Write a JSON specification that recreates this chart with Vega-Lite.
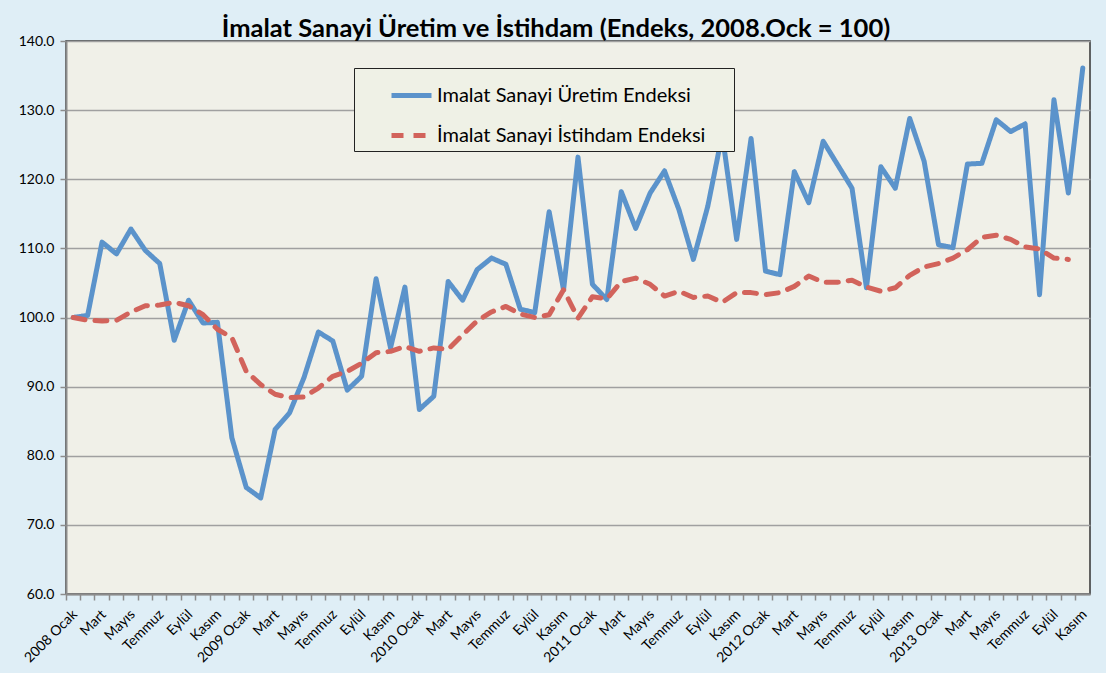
{
  "$schema": "https://vega.github.io/schema/vega-lite/v6.json",
  "width": 1024,
  "height": 553,
  "autosize": {"type": "none"},
  "padding": {"left": 66, "top": 41, "right": 16, "bottom": 79},
  "background": "#DFEEF6",
  "config": {
    "font": "Lato",
    "view": {"fill": "#F0F0E8", "stroke": "#333333", "strokeWidth": 1.5}
  },
  "title": {
    "text": "İmalat Sanayi Üretim ve İstihdam (Endeks, 2008.Ock = 100)",
    "font": "Lato",
    "fontSize": 25.5,
    "fontWeight": "bold",
    "color": "#000000",
    "anchor": "middle",
    "frame": "group",
    "baseline": "alphabetic",
    "offset": -28,
    "dx": -22
  },
  "data": {
    "values": [
      {"ay": "2008 Ocak", "uretim": 100.0, "istihdam": 100.0},
      {"ay": "2008 Şubat", "uretim": 100.3, "istihdam": 99.6},
      {"ay": "2008 Mart", "uretim": 110.9, "istihdam": 99.5},
      {"ay": "2008 Nisan", "uretim": 109.2, "istihdam": 99.6},
      {"ay": "2008 Mayıs", "uretim": 112.8, "istihdam": 100.8},
      {"ay": "2008 Haziran", "uretim": 109.7, "istihdam": 101.7},
      {"ay": "2008 Temmuz", "uretim": 107.8, "istihdam": 101.8},
      {"ay": "2008 Ağustos", "uretim": 96.7, "istihdam": 102.2},
      {"ay": "2008 Eylül", "uretim": 102.5, "istihdam": 101.7},
      {"ay": "2008 Ekim", "uretim": 99.2, "istihdam": 100.4},
      {"ay": "2008 Kasım", "uretim": 99.3, "istihdam": 98.3},
      {"ay": "2008 Aralık", "uretim": 82.6, "istihdam": 97.1},
      {"ay": "2009 Ocak", "uretim": 75.4, "istihdam": 92.2},
      {"ay": "2009 Şubat", "uretim": 73.9, "istihdam": 90.3},
      {"ay": "2009 Mart", "uretim": 83.8, "istihdam": 88.9},
      {"ay": "2009 Nisan", "uretim": 86.2, "istihdam": 88.4},
      {"ay": "2009 Mayıs", "uretim": 91.3, "istihdam": 88.5},
      {"ay": "2009 Haziran", "uretim": 97.9, "istihdam": 89.8},
      {"ay": "2009 Temmuz", "uretim": 96.6, "istihdam": 91.5},
      {"ay": "2009 Ağustos", "uretim": 89.5, "istihdam": 92.2},
      {"ay": "2009 Eylül", "uretim": 91.5, "istihdam": 93.4},
      {"ay": "2009 Ekim", "uretim": 105.6, "istihdam": 94.9},
      {"ay": "2009 Kasım", "uretim": 95.6, "istihdam": 95.1},
      {"ay": "2009 Aralık", "uretim": 104.4, "istihdam": 95.8},
      {"ay": "2010 Ocak", "uretim": 86.7, "istihdam": 95.1},
      {"ay": "2010 Şubat", "uretim": 88.6, "istihdam": 95.6},
      {"ay": "2010 Mart", "uretim": 105.2, "istihdam": 95.4},
      {"ay": "2010 Nisan", "uretim": 102.5, "istihdam": 97.5},
      {"ay": "2010 Mayıs", "uretim": 106.9, "istihdam": 99.5},
      {"ay": "2010 Haziran", "uretim": 108.6, "istihdam": 100.8},
      {"ay": "2010 Temmuz", "uretim": 107.7, "istihdam": 101.6},
      {"ay": "2010 Ağustos", "uretim": 101.2, "istihdam": 100.5},
      {"ay": "2010 Eylül", "uretim": 100.7, "istihdam": 100.0},
      {"ay": "2010 Ekim", "uretim": 115.3, "istihdam": 100.4},
      {"ay": "2010 Kasım", "uretim": 104.0, "istihdam": 104.0},
      {"ay": "2010 Aralık", "uretim": 123.2, "istihdam": 99.9},
      {"ay": "2011 Ocak", "uretim": 104.8, "istihdam": 103.0},
      {"ay": "2011 Şubat", "uretim": 102.6, "istihdam": 102.7},
      {"ay": "2011 Mart", "uretim": 118.2, "istihdam": 105.2},
      {"ay": "2011 Nisan", "uretim": 112.9, "istihdam": 105.7},
      {"ay": "2011 Mayıs", "uretim": 118.0, "istihdam": 104.8},
      {"ay": "2011 Haziran", "uretim": 121.2, "istihdam": 103.1},
      {"ay": "2011 Temmuz", "uretim": 115.6, "istihdam": 103.8},
      {"ay": "2011 Ağustos", "uretim": 108.4, "istihdam": 102.9},
      {"ay": "2011 Eylül", "uretim": 116.1, "istihdam": 103.1},
      {"ay": "2011 Ekim", "uretim": 126.5, "istihdam": 102.2},
      {"ay": "2011 Kasım", "uretim": 111.3, "istihdam": 103.6},
      {"ay": "2011 Aralık", "uretim": 125.9, "istihdam": 103.6},
      {"ay": "2012 Ocak", "uretim": 106.7, "istihdam": 103.3},
      {"ay": "2012 Şubat", "uretim": 106.2, "istihdam": 103.6},
      {"ay": "2012 Mart", "uretim": 121.1, "istihdam": 104.5},
      {"ay": "2012 Nisan", "uretim": 116.6, "istihdam": 106.0},
      {"ay": "2012 Mayıs", "uretim": 125.5, "istihdam": 105.1},
      {"ay": "2012 Haziran", "uretim": 122.1, "istihdam": 105.1},
      {"ay": "2012 Temmuz", "uretim": 118.7, "istihdam": 105.4},
      {"ay": "2012 Ağustos", "uretim": 104.3, "istihdam": 104.4},
      {"ay": "2012 Eylül", "uretim": 121.8, "istihdam": 103.8},
      {"ay": "2012 Ekim", "uretim": 118.7, "istihdam": 104.3},
      {"ay": "2012 Kasım", "uretim": 128.8, "istihdam": 106.1},
      {"ay": "2012 Aralık", "uretim": 122.6, "istihdam": 107.3},
      {"ay": "2013 Ocak", "uretim": 110.5, "istihdam": 107.8},
      {"ay": "2013 Şubat", "uretim": 110.1, "istihdam": 108.6},
      {"ay": "2013 Mart", "uretim": 122.2, "istihdam": 109.8},
      {"ay": "2013 Nisan", "uretim": 122.3, "istihdam": 111.6},
      {"ay": "2013 Mayıs", "uretim": 128.6, "istihdam": 111.9},
      {"ay": "2013 Haziran", "uretim": 126.9, "istihdam": 111.3},
      {"ay": "2013 Temmuz", "uretim": 128.0, "istihdam": 110.2},
      {"ay": "2013 Ağustos", "uretim": 103.3, "istihdam": 109.9},
      {"ay": "2013 Eylül", "uretim": 131.5, "istihdam": 108.6},
      {"ay": "2013 Ekim", "uretim": 118.0, "istihdam": 108.4},
      {"ay": "2013 Kasım", "uretim": 136.1, "istihdam": null}
    ]
  },
  "transform": [
    {"fold": ["uretim", "istihdam"], "as": ["seri", "deger"]},
    {"filter": "isValid(datum.deger)"}
  ],
  "mark": {"type": "line", "strokeWidth": 5, "strokeCap": "round", "strokeJoin": "round"},
  "encoding": {
    "x": {
      "field": "ay",
      "type": "ordinal",
      "sort": null,
      "bandPosition": 0.5,
      "scale": {"type": "band", "paddingInner": 0, "paddingOuter": 0},
      "axis": {
        "title": null,
        "bandPosition": 0,
        "labelOffset": 2,
        "labelAngle": -45,
        "labelAlign": "right",
        "labelBaseline": "middle",
        "labelOverlap": false,
        "labelFontSize": 14,
        "labelColor": "#000000",
        "labelPadding": 12,
        "labelExpr": "indexof(['Şubat','Nisan','Haziran','Ağustos','Ekim','Aralık'], split(datum.value, ' ')[1]) >= 0 ? '' : (split(datum.value, ' ')[1] == 'Ocak' ? datum.value : split(datum.value, ' ')[1])",
        "tickSize": 6,
        "tickColor": "#8C8C8C",
        "tickWidth": 1.5,
        "domainColor": "#8C8C8C",
        "domainWidth": 2,
        "grid": false
      }
    },
    "y": {
      "field": "deger",
      "type": "quantitative",
      "scale": {"domain": [60, 140], "nice": false, "zero": false},
      "axis": {
        "title": null,
        "values": [60, 70, 80, 90, 100, 110, 120, 130, 140],
        "format": ".1f",
        "labelFontSize": 14,
        "labelColor": "#000000",
        "labelPadding": 6,
        "tickSize": 6,
        "tickColor": "#8C8C8C",
        "tickWidth": 1.5,
        "domainColor": "#8C8C8C",
        "domainWidth": 2,
        "grid": true,
        "gridColor": "#A0A0A0",
        "gridWidth": 1.5
      }
    },
    "color": {
      "field": "seri",
      "type": "nominal",
      "scale": {"domain": ["uretim", "istihdam"], "range": ["#5B93CB", "#D2635B"]},
      "legend": {
        "title": "\u00a0",
        "titleOrient": "right",
        "titlePadding": 24,
        "orient": "none",
        "legendX": 288,
        "legendY": 27,
        "fillColor": "#EFF1E6",
        "strokeColor": "#222222",
        "padding": 5,
        "symbolType": "stroke",
        "symbolSize": 1600,
        "symbolStrokeWidth": 5,
        "symbolOffset": 30,
        "labelOffset": 3,
        "rowPadding": 7,
        "labelFontSize": 20,
        "labelColor": "#000000",
        "labelLimit": 400,
        "labelExpr": "datum.value == 'uretim' ? 'Imalat Sanayi Üretim Endeksi' : 'İmalat Sanayi İstihdam Endeksi'"
      }
    },
    "strokeDash": {
      "field": "seri",
      "type": "nominal",
      "scale": {"domain": ["uretim", "istihdam"], "range": [[1, 0], [12, 10]]},
      "legend": {
        "title": "\u00a0",
        "titleOrient": "right",
        "titlePadding": 24,
        "orient": "none",
        "legendX": 288,
        "legendY": 27,
        "fillColor": "#EFF1E6",
        "strokeColor": "#222222",
        "padding": 5,
        "symbolType": "stroke",
        "symbolSize": 1600,
        "symbolStrokeWidth": 5,
        "symbolOffset": 30,
        "labelOffset": 3,
        "rowPadding": 7,
        "labelFontSize": 20,
        "labelColor": "#000000",
        "labelLimit": 400,
        "labelExpr": "datum.value == 'uretim' ? 'Imalat Sanayi Üretim Endeksi' : 'İmalat Sanayi İstihdam Endeksi'"
      }
    }
  }
}
